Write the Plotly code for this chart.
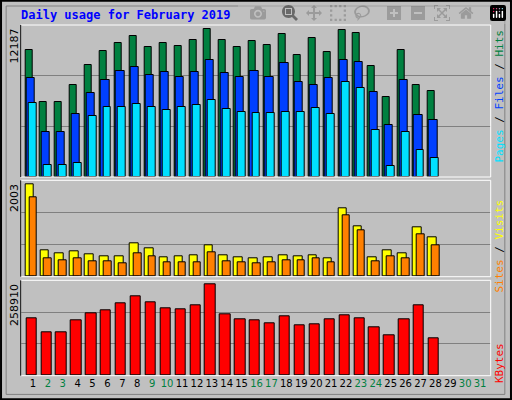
import plotly.graph_objects as go

days = list(range(1, 32))
weekend = [2, 3, 9, 10, 16, 17, 23, 24, 30, 31]
hits = [10449, 6231, 6231, 7554, 9208, 10366, 11028, 11607, 10697, 11028, 10780, 11276, 12187, 11276,
        10697, 11193, 10863, 11772, 10035, 11442, 10284, 12103, 11855, 9126, 6644, 10449, 7554, 7058]
files = [8133, 3750, 3750, 5238, 6893, 7968, 8712, 9043, 8381, 8629, 8216, 8629, 9622, 8547,
         8216, 8712, 8216, 9374, 7802, 7554, 8133, 9622, 9457, 6975, 4328, 7968, 5156, 4742]
pages = [6148, 1020, 1020, 1186, 5073, 5817, 5817, 6065, 5817, 5569, 5817, 5983, 6396, 5652,
         5404, 5321, 5321, 5404, 5404, 5735, 5238, 7802, 7306, 3915, 937, 3750, 2261, 1599]
sites = [2003, 571, 506, 549, 484, 441, 441, 723, 615, 419, 441, 463, 680, 463,
         419, 398, 419, 463, 441, 463, 398, 1482, 1092, 419, 571, 506, 1070, 853]
visits = [1721, 398, 354, 398, 333, 333, 289, 506, 441, 311, 311, 311, 528, 333,
          311, 289, 311, 354, 354, 398, 311, 1330, 1005, 333, 441, 398, 918, 680]
kbytes = [162540, 122850, 122850, 156870, 176715, 185220, 205065, 224910, 207900, 190890, 188055, 199395, 258910, 173880,
          159705, 156870, 148365, 168210, 142695, 145530, 159705, 171045, 162540, 137025, 114345, 159705, 199395, 105840]

d = days[:28]
fig = go.Figure()
def bar(y, color, off, w, ax):
    fig.add_trace(go.Bar(x=[v + off for v in d], y=y, width=w, marker=dict(color=color, line=dict(color="black", width=1)),
                         xaxis="x" if ax == "y" else "x" + ax[1:], yaxis=ax, showlegend=False, hoverinfo="skip"))

bar(hits, "#008040", -0.28, 0.47, "y")
bar(files, "#0040ff", -0.15, 0.55, "y")
bar(pages, "#00e0ff", -0.02, 0.53, "y")
bar(sites, "#ffff00", -0.22, 0.58, "y2")
bar(visits, "#ff8000", 0.01, 0.51, "y2")
bar(kbytes, "#ff0000", -0.1, 0.69, "y3")

xr = [0.18, 31.71]
xdom = [20.7 / 512, 490.7 / 512]
def yd(t, b):
    return [1 - b / 400, 1 - t / 400]

tops = [12187 * 455 / 442, 2003 * 289 / 277, 258910 * 286 / 274]
grid = dict(showgrid=True, gridcolor="#808080", gridwidth=1, showticklabels=False, zeroline=False, ticks="")
fig.update_layout(
    width=512, height=400, margin=dict(l=0, r=0, t=0, b=0),
    paper_bgcolor="#c0c0c0", plot_bgcolor="#c0c0c0", barmode="overlay", bargap=0,
    xaxis=dict(domain=xdom, range=xr, showticklabels=False, showgrid=False, zeroline=False, anchor="y"),
    xaxis2=dict(domain=xdom, range=xr, showticklabels=False, showgrid=False, zeroline=False, anchor="y2"),
    xaxis3=dict(domain=xdom, range=xr, showgrid=False, zeroline=False, anchor="y3",
                tickvals=days, ticks="", tickangle=0, automargin=False,
                ticktext=[f"<span style='color:{'#008040' if v in weekend else 'black'}'>{v}</span>" for v in days],
                tickfont=dict(family="DejaVu Sans", size=10)),
    yaxis=dict(domain=yd(25, 177), range=[0, tops[0]], tickvals=[tops[0] / 3, 2 * tops[0] / 3], **grid),
    yaxis2=dict(domain=yd(180.3, 276.7), range=[0, tops[1]], tickvals=[tops[1] / 3, 2 * tops[1] / 3], **grid),
    yaxis3=dict(domain=yd(280.3, 375.7), range=[0, tops[2]], tickvals=[tops[2] / 3, 2 * tops[2] / 3], **grid),
)

shapes = [dict(type="rect", xref="paper", yref="paper", x0=0.002, y0=0.002, x1=0.998, y1=0.998,
               line=dict(color="black", width=2)),
          dict(type="rect", xref="paper", yref="paper", x0=0.012, y0=0.014, x1=0.986, y1=0.985,
               line=dict(color="#808080", width=1))]
for t, b in [(25, 177), (180.3, 276.7), (280.3, 375.7)]:
    shapes.append(dict(type="rect", xref="paper", yref="paper", x0=xdom[0], x1=xdom[1], y0=1 - b / 400, y1=1 - t / 400,
                       line=dict(color="white", width=1)))
    shapes.append(dict(type="line", xref="paper", yref="paper", x0=xdom[0], x1=xdom[0], y0=1 - b / 400, y1=1 - t / 400,
                       line=dict(color="black", width=1)))
fig.update_layout(shapes=shapes)

mono = "DejaVu Sans Mono"
ann = [dict(text="<b>Daily usage for February 2019</b>", x=19 / 512, y=1 - 15 / 400, xref="paper", yref="paper",
            xanchor="left", yanchor="middle", showarrow=False, font=dict(family=mono, size=12, color="#0000ff"))]
for lab, t in [("12187", 25), ("2003", 180), ("258910", 280)]:
    ann.append(dict(text=lab, x=14 / 512, y=1 - (t + 2) / 400, xref="paper", yref="paper", textangle=-90,
                    xanchor="center", yanchor="top", showarrow=False, font=dict(family="DejaVu Sans", size=11, color="black")))
ann.append(dict(text="<span style='color:#00e0ff'>Pages</span> / <span style='color:#0040ff'>Files</span> / <span style='color:#008040'>Hits</span>",
                x=499 / 512, y=1 - 28 / 400, xref="paper", yref="paper", textangle=-90, xanchor="center", yanchor="top",
                showarrow=False, font=dict(family=mono, size=11, color="black")))
ann.append(dict(text="<span style='color:#ff8000'>Sites</span> / <span style='color:#ffff00'>Visits</span>",
                x=499 / 512, y=1 - 198 / 400, xref="paper", yref="paper", textangle=-90, xanchor="center", yanchor="top",
                showarrow=False, font=dict(family=mono, size=11, color="black")))
ann.append(dict(text="<span style='color:#ff0000'>KBytes</span>",
                x=499 / 512, y=1 - 341 / 400, xref="paper", yref="paper", textangle=-90, xanchor="center", yanchor="top",
                showarrow=False, font=dict(family=mono, size=11, color="black")))
fig.update_layout(annotations=ann)
html = fig.to_html()
html = html.replace("<head>", "<head><style>html,body{margin:0;padding:0;overflow:hidden}</style>", 1)
with open("out.html", "w", encoding="utf-8") as f:
    f.write(html)
